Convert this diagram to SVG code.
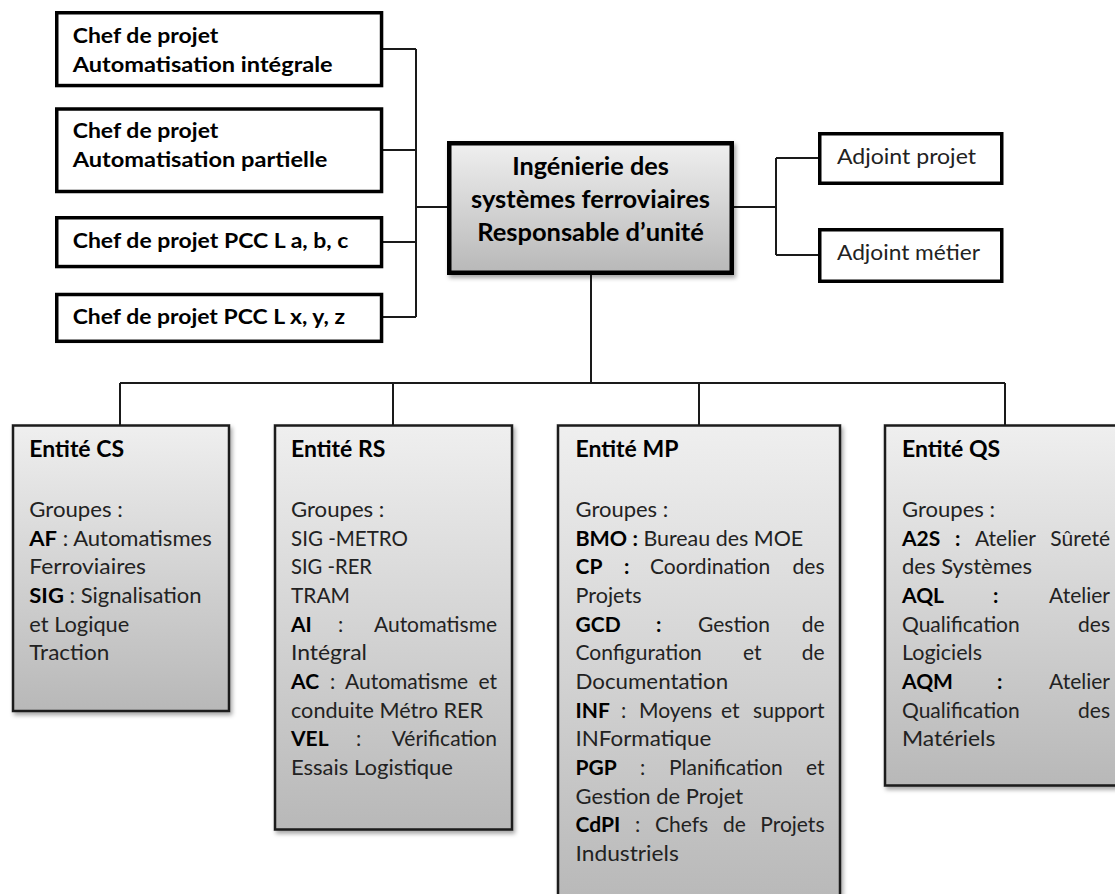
<svg xmlns="http://www.w3.org/2000/svg" width="1115" height="894" viewBox="0 0 1115 894">
<defs>
<linearGradient id="g" x1="0" y1="0" x2="0" y2="1"><stop offset="0" stop-color="#efefef"/><stop offset="1" stop-color="#b8b8b8"/></linearGradient>
<filter id="sh" x="-10%" y="-10%" width="130%" height="130%"><feDropShadow dx="2" dy="3" stdDeviation="2" flood-color="#000" flood-opacity="0.35"/></filter>
<style>
.box{fill:#fff;stroke:#000;stroke-width:3.5}
.ent{fill:url(#g);stroke:#1a1a1a;stroke-width:2.5;filter:url(#sh)}
.ctr{fill:url(#g);stroke:#000;stroke-width:4.5;filter:url(#sh)}
.conn{stroke:#1a1a1a;stroke-width:2;fill:none}
text{font-family:Lato,"Liberation Sans",sans-serif;font-size:21px;fill:#222}
.b{font-weight:700;fill:#000}
.lb{font-weight:700;fill:#000;font-size:21.5px}
.hd{font-weight:700;fill:#000;font-size:23px}
.ct{font-weight:700;fill:#000;font-size:24px;text-anchor:middle}
.e{text-anchor:end}
</style>
</defs>
<g id="connectors">
<path class="conn" d="M383 49H416M383 150H416M383 242H416M383 317H416M416 49V317M416 207H447"/>
<path class="conn" d="M734 207H776M776 158V255M776 158H818M776 255H818"/>
<path class="conn" d="M591 275V383M120 383H1005M120 383V425M393 383V425M699 383V425M1005 383V425"/>
</g>
<g id="cp-ai">
<rect class="box" x="56.75" y="12.75" width="324.8" height="72.8"/>
<text class="lb" x="72.7" y="42.7" textLength="145.7" lengthAdjust="spacingAndGlyphs">Chef de projet</text>
<text class="lb" x="72.7" y="71.5" textLength="260" lengthAdjust="spacingAndGlyphs">Automatisation intégrale</text>
</g>
<g id="cp-ap">
<rect class="box" x="56.75" y="109" width="324.8" height="82.5"/>
<text class="lb" x="72.7" y="138.3" textLength="145.7" lengthAdjust="spacingAndGlyphs">Chef de projet</text>
<text class="lb" x="72.7" y="167.3" textLength="254.7" lengthAdjust="spacingAndGlyphs">Automatisation partielle</text>
</g>
<g id="cp-abc">
<rect class="box" x="56.75" y="217.75" width="324.8" height="48.8"/>
<text class="lb" x="72.7" y="248.3" textLength="275.7" lengthAdjust="spacingAndGlyphs">Chef de projet PCC L a, b, c</text>
</g>
<g id="cp-xyz">
<rect class="box" x="56.75" y="294.5" width="324.8" height="46.8"/>
<text class="lb" x="72.7" y="323.5" textLength="272.3" lengthAdjust="spacingAndGlyphs">Chef de projet PCC L x, y, z</text>
</g>
<g id="responsable">
<rect class="ctr" x="449.25" y="143.25" width="282.5" height="129.5"/>
<text class="ct" x="590.5" y="175" textLength="156.7" lengthAdjust="spacingAndGlyphs">Ingénierie des</text>
<text class="ct" x="590.5" y="208" textLength="239" lengthAdjust="spacingAndGlyphs">systèmes ferroviaires</text>
<text class="ct" x="590.5" y="241" textLength="226.7" lengthAdjust="spacingAndGlyphs">Responsable d’unité</text>
</g>
<g id="adjoint-projet">
<rect class="box" x="819.75" y="133.75" width="182" height="49.5"/>
<text x="837" y="164" textLength="139" lengthAdjust="spacingAndGlyphs">Adjoint projet</text>
</g>
<g id="adjoint-metier">
<rect class="box" x="819.75" y="229.75" width="182" height="51.5"/>
<text x="837" y="260" textLength="143" lengthAdjust="spacingAndGlyphs">Adjoint métier</text>
</g>
<g id="entite-cs">
<rect class="ent" x="13" y="425.5" width="216" height="285.5"/>
<text class="hd" x="29.3" y="457">Entité CS</text>
<text x="29.3" y="517" textLength="93.4" lengthAdjust="spacingAndGlyphs">Groupes :</text>
<text x="29.3" y="545.6" textLength="182.4" lengthAdjust="spacingAndGlyphs"><tspan class="b">AF</tspan> : Automatismes</text>
<text x="29.3" y="574.3" textLength="116.7" lengthAdjust="spacingAndGlyphs">Ferroviaires</text>
<text x="29.3" y="603" textLength="172.3" lengthAdjust="spacingAndGlyphs"><tspan class="b">SIG</tspan> : Signalisation</text>
<text x="29.3" y="631.6" textLength="100" lengthAdjust="spacingAndGlyphs">et Logique</text>
<text x="29.3" y="660.3" textLength="80" lengthAdjust="spacingAndGlyphs">Traction</text>
</g>
<g id="entite-rs">
<rect class="ent" x="275" y="425.5" width="237" height="404"/>
<text class="hd" x="291" y="457">Entité RS</text>
<text x="291" y="517" textLength="93.4" lengthAdjust="spacingAndGlyphs">Groupes :</text>
<text x="291" y="545.6" textLength="117" lengthAdjust="spacingAndGlyphs">SIG -METRO</text>
<text x="291" y="574.3" textLength="81" lengthAdjust="spacingAndGlyphs">SIG -RER</text>
<text x="291" y="603" textLength="59" lengthAdjust="spacingAndGlyphs">TRAM</text>
<text x="291" y="631.6"><tspan class="b">AI</tspan><tspan x="338">:</tspan></text>
<text class="e" x="497" y="631.6">Automatisme</text>
<text x="291" y="660.3" textLength="76" lengthAdjust="spacingAndGlyphs">Intégral</text>
<text x="291" y="689"><tspan class="b">AC</tspan><tspan x="330">:</tspan><tspan x="345">Automatisme</tspan></text>
<text class="e" x="497" y="689">et</text>
<text x="291" y="717.6" textLength="192" lengthAdjust="spacingAndGlyphs">conduite Métro RER</text>
<text x="291" y="746.2"><tspan class="b">VEL</tspan><tspan x="356">:</tspan></text>
<text class="e" x="497" y="746.2">Vérification</text>
<text x="291" y="775" textLength="162" lengthAdjust="spacingAndGlyphs">Essais Logistique</text>
</g>
<g id="entite-mp">
<rect class="ent" x="558" y="425.5" width="282" height="480"/>
<text class="hd" x="575.5" y="457">Entité MP</text>
<text x="575.5" y="517" textLength="92.7" lengthAdjust="spacingAndGlyphs">Groupes :</text>
<text x="575.5" y="545.6" textLength="227.7" lengthAdjust="spacingAndGlyphs"><tspan class="b">BMO :</tspan> Bureau des MOE</text>
<text x="575.5" y="574.3"><tspan class="b">CP</tspan><tspan class="b" x="624">:</tspan><tspan x="650">Coordination</tspan></text>
<text class="e" x="824.5" y="574.3">des</text>
<text x="575.5" y="603" textLength="66" lengthAdjust="spacingAndGlyphs">Projets</text>
<text x="575.5" y="631.6"><tspan class="b">GCD</tspan><tspan class="b" x="656">:</tspan><tspan x="698">Gestion</tspan></text>
<text class="e" x="824.5" y="631.6">de</text>
<text x="575.5" y="660.3">Configuration<tspan x="743">et</tspan></text>
<text class="e" x="824.5" y="660.3">de</text>
<text x="575.5" y="689" textLength="152.7" lengthAdjust="spacingAndGlyphs">Documentation</text>
<text x="575.5" y="717.6"><tspan class="b">INF</tspan><tspan x="621">:</tspan><tspan x="639">Moyens</tspan><tspan x="721">et</tspan></text>
<text class="e" x="824.5" y="717.6">support</text>
<text x="575.5" y="746.2" textLength="135.7" lengthAdjust="spacingAndGlyphs">INFormatique</text>
<text x="575.5" y="775"><tspan class="b">PGP</tspan><tspan x="640">:</tspan><tspan x="669">Planification</tspan></text>
<text class="e" x="824.5" y="775">et</text>
<text x="575.5" y="803.5" textLength="167.7" lengthAdjust="spacingAndGlyphs">Gestion de Projet</text>
<text x="575.5" y="832"><tspan class="b">CdPI</tspan><tspan x="635">:</tspan><tspan x="655">Chefs</tspan><tspan x="723">de</tspan></text>
<text class="e" x="824.5" y="832">Projets</text>
<text x="575.5" y="860.8" textLength="103.3" lengthAdjust="spacingAndGlyphs">Industriels</text>
</g>
<g id="entite-qs">
<rect class="ent" x="885" y="425.5" width="240" height="360"/>
<text class="hd" x="902" y="457">Entité QS</text>
<text x="902" y="517" textLength="93" lengthAdjust="spacingAndGlyphs">Groupes :</text>
<text x="902" y="545.6"><tspan class="b">A2S</tspan><tspan class="b" x="955">:</tspan><tspan x="975">Atelier</tspan></text>
<text class="e" x="1110" y="545.6">Sûreté</text>
<text x="902" y="574.3" textLength="130" lengthAdjust="spacingAndGlyphs">des Systèmes</text>
<text x="902" y="603"><tspan class="b">AQL</tspan><tspan class="b" x="993">:</tspan></text>
<text class="e" x="1110" y="603">Atelier</text>
<text x="902" y="631.6">Qualification</text>
<text class="e" x="1110" y="631.6">des</text>
<text x="902" y="660.3" textLength="80" lengthAdjust="spacingAndGlyphs">Logiciels</text>
<text x="902" y="689"><tspan class="b">AQM</tspan><tspan class="b" x="997">:</tspan></text>
<text class="e" x="1110" y="689">Atelier</text>
<text x="902" y="717.6">Qualification</text>
<text class="e" x="1110" y="717.6">des</text>
<text x="902" y="746.2" textLength="93.3" lengthAdjust="spacingAndGlyphs">Matériels</text>
</g>
</svg>
